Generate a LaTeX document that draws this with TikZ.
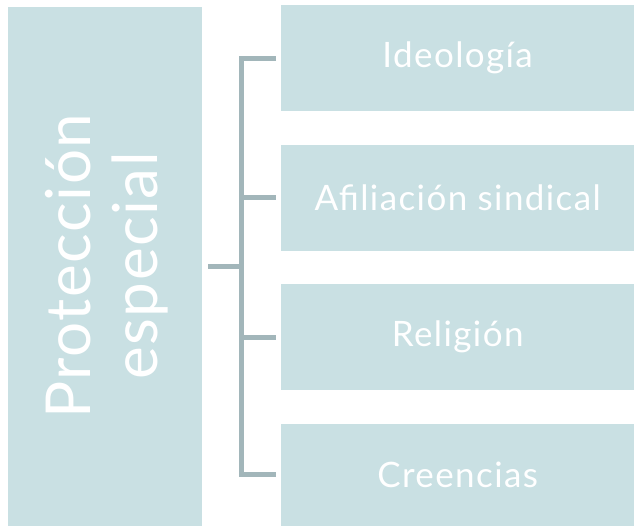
\documentclass[tikz,border=0pt]{standalone}
\usepackage{fontspec}
\setmainfont{Lato}[LetterSpace=4]
\newfontfamily\bigfont{Lato}[LetterSpace=2.5]
\definecolor{boxfill}{RGB}{201,224,227}
\definecolor{linecol}{RGB}{162,182,186}
\begin{document}
\begin{tikzpicture}[x=1pt,y=-1pt,
  leftbox/.style={fill=boxfill,draw=none,minimum width=194pt,minimum height=519pt,inner sep=0pt,text=white,anchor=north west},
  itembox/.style={fill=boxfill,draw=none,minimum width=353pt,minimum height=106pt,inner sep=0pt,text=white,anchor=north west,font=\fontsize{35}{38}\selectfont},
  conn/.style={draw=linecol,line width=5pt,line join=miter}]
\useasboundingbox (0,0) rectangle (634,526);
\node[leftbox] (L) at (8,7) {};
\node[text=white,rotate=90,align=center,font=\bigfont\fontsize{62}{67}\selectfont] (LT) at (107,266) {Protección\\especial};
\node[itembox] (B1) at (281,5) {Ideología};
\node[itembox] (B2) at (281,144.5) {Afiliación sindical};
\node[itembox] (B3) at (281,284) {Religión};
\node[itembox,minimum height=102pt] (B4) at (281,423.5) {Creencias};
\coordinate (J) at (241.5,267);
\draw[conn] ([xshift=6pt]L.east |- J) -- (J);
\draw[conn] ([xshift=-5pt]B1.west) -- (J |- B1.west) -- (J |- B4.west) -- ([xshift=-5pt]B4.west);
\draw[conn] (J |- B2.west) -- ([xshift=-5pt]B2.west);
\draw[conn] (J |- B3.west) -- ([xshift=-5pt]B3.west);
\end{tikzpicture}
\end{document}
